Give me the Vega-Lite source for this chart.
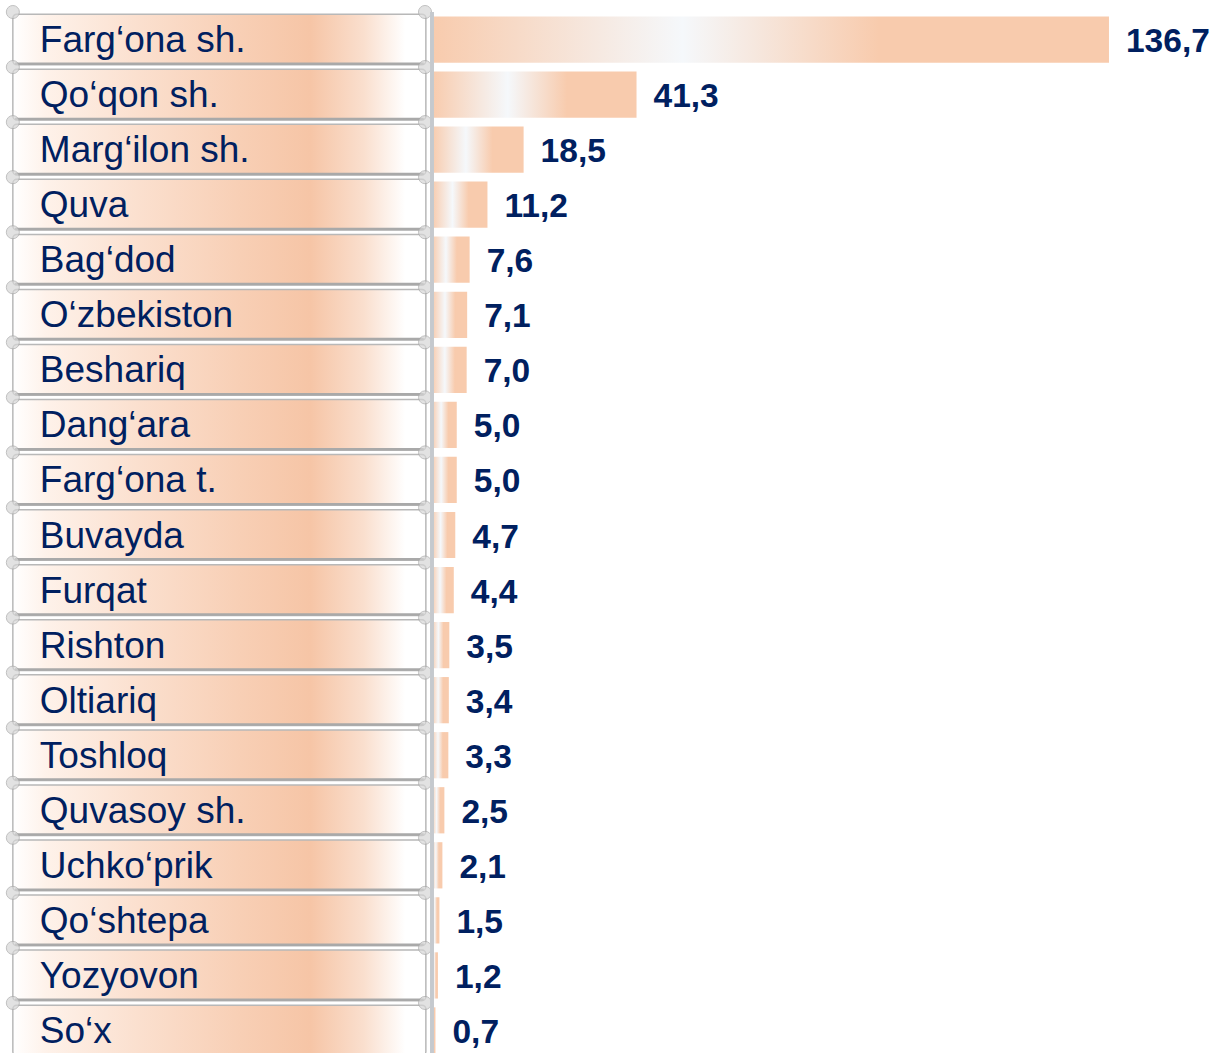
{
  "$schema": "https://vega.github.io/schema/vega-lite/v6.json",
  "padding": {"left": 0, "top": 3, "right": 0, "bottom": 0},
  "background": "white",
  "config": {
    "view": {"stroke": null},
    "locale": {"number": {"decimal": ",", "thousands": " ", "grouping": [3], "currency": ["", ""]}}
  },
  "data": {
    "values": [
      {"name": "Farg‘ona sh.", "value": 136.7},
      {"name": "Qo‘qon sh.", "value": 41.3},
      {"name": "Marg‘ilon sh.", "value": 18.5},
      {"name": "Quva", "value": 11.2},
      {"name": "Bag‘dod", "value": 7.6},
      {"name": "O‘zbekiston", "value": 7.1},
      {"name": "Beshariq", "value": 7.0},
      {"name": "Dang‘ara", "value": 5.0},
      {"name": "Farg‘ona t.", "value": 5.0},
      {"name": "Buvayda", "value": 4.7},
      {"name": "Furqat", "value": 4.4},
      {"name": "Rishton", "value": 3.5},
      {"name": "Oltiariq", "value": 3.4},
      {"name": "Toshloq", "value": 3.3},
      {"name": "Quvasoy sh.", "value": 2.5},
      {"name": "Uchko‘prik", "value": 2.1},
      {"name": "Qo‘shtepa", "value": 1.5},
      {"name": "Yozyovon", "value": 1.2},
      {"name": "So‘x", "value": 0.7}
    ]
  },
  "spacing": 4,
  "bounds": "flush",
  "hconcat": [
    {
      "width": 428,
      "height": 1046,
      "layer": [
        {
          "mark": {
            "type": "bar",
            "cornerRadius": 4,
            "stroke": "#b8b8b8",
            "strokeWidth": 1.5,
            "fill": {
              "gradient": "linear", "x1": 0, "y1": 0, "x2": 1, "y2": 0,
              "stops": [
                {"offset": 0, "color": "#FFFFFF"},
                {"offset": 0.08, "color": "#FEF2EA"},
                {"offset": 0.3, "color": "#FBE0CF"},
                {"offset": 0.55, "color": "#F8CFB5"},
                {"offset": 0.72, "color": "#F6C5A6"},
                {"offset": 0.85, "color": "#FADFCE"},
                {"offset": 0.95, "color": "#FFFFFF"},
                {"offset": 1, "color": "#FFFFFF"}
              ]
            }
          },
          "encoding": {
            "y": {"field": "name", "type": "nominal", "sort": null, "axis": null, "scale": {"paddingInner": 0.08, "paddingOuter": 0.04}},
            "x": {"datum": 3, "type": "quantitative", "scale": {"domain": [0, 100]}, "axis": null},
            "x2": {"datum": 99.5}
          }
        },
        {
          "mark": {"type": "rule", "stroke": "#a9a9a9", "strokeWidth": 2.5, "yOffset": -1},
          "encoding": {
            "y": {"field": "name", "type": "nominal", "sort": null, "axis": null, "bandPosition": 1},
            "x": {"datum": 3.5, "type": "quantitative"},
            "x2": {"datum": 99}
          }
        },
        {
          "mark": {"type": "point", "filled": true, "size": 170, "fill": "#d6d6d6", "stroke": "#a8a8a8", "strokeWidth": 1, "yOffset": -2.2},
          "encoding": {
            "y": {"field": "name", "type": "nominal", "sort": null, "axis": null, "bandPosition": 0},
            "x": {"datum": 3, "type": "quantitative"}
          }
        },
        {
          "mark": {"type": "point", "filled": true, "size": 170, "fill": "#d6d6d6", "stroke": "#a8a8a8", "strokeWidth": 1, "yOffset": -2.2},
          "encoding": {
            "y": {"field": "name", "type": "nominal", "sort": null, "axis": null, "bandPosition": 0},
            "x": {"datum": 99.3, "type": "quantitative"}
          }
        },
        {
          "mark": {"type": "text", "align": "left", "baseline": "alphabetic", "dx": 27, "dy": 12.5, "fontSize": 37, "font": "Liberation Sans", "fill": "#002060"},
          "encoding": {
            "y": {"field": "name", "type": "nominal", "sort": null, "axis": null},
            "x": {"datum": 3, "type": "quantitative"},
            "text": {"field": "name"}
          }
        }
      ]
    },
    {
      "width": 779,
      "height": 1046,
      "layer": [
        {
          "mark": {
            "type": "bar",
            "fill": {
              "gradient": "linear", "x1": 0, "y1": 0, "x2": 1, "y2": 0,
              "stops": [
                {"offset": 0, "color": "#F8CBAD"},
                {"offset": 0.37, "color": "#F5F8FB"},
                {"offset": 0.66, "color": "#F8CBAD"},
                {"offset": 1, "color": "#F8CBAD"}
              ]
            }
          },
          "encoding": {
            "y": {"field": "name", "type": "nominal", "sort": null, "axis": null, "scale": {"paddingInner": 0.16, "paddingOuter": 0.08}},
            "x": {"field": "value", "type": "quantitative", "scale": {"domain": [0, 157.3], "nice": false, "zero": true}, "axis": null}
          }
        },
        {
          "mark": {"type": "rule", "stroke": "#c5c9ce", "strokeWidth": 3},
          "encoding": {
            "x": {"datum": 0, "type": "quantitative"}
          }
        },
        {
          "mark": {"type": "text", "align": "left", "baseline": "alphabetic", "dx": 17, "dy": 12.5, "fontSize": 33.5, "fontWeight": "bold", "font": "Liberation Sans", "fill": "#002060"},
          "encoding": {
            "y": {"field": "name", "type": "nominal", "sort": null, "axis": null},
            "x": {"field": "value", "type": "quantitative"},
            "text": {"field": "value", "type": "quantitative", "format": ".1f"}
          }
        }
      ]
    }
  ]
}
